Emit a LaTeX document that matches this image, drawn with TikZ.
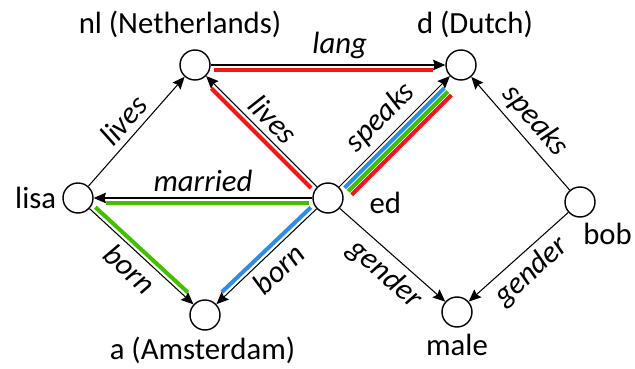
\documentclass[tikz,border=0pt]{standalone}
\usepackage{fontspec}
\setmainfont{Carlito}
\usetikzlibrary{arrows.meta,calc}
\definecolor{hired}{RGB}{235,25,25}
\definecolor{higreen}{RGB}{70,190,0}
\definecolor{hiblue}{RGB}{50,140,230}
\tikzset{every label/.append style={font=\fontsize{17.5}{21}\selectfont}}
\tikzset{
    ent/.style={circle, draw, minimum size=6mm, inner sep=0pt, line width=0.8pt},
    rel/.style={-{Stealth[length=7pt, width=6pt, inset=1pt]}, line width=0.6pt},
    lbl/.style={font=\fontsize{17.5}{21}\selectfont\itshape, sloped, midway},
    hl/.style={line width=2.3pt, shorten <=3.8mm, shorten >=5.6mm}
}
\begin{document}
\begin{tikzpicture}
	\useasboundingbox (0,0) rectangle (12.7,7.36);
	\node [ent, label={[label distance=1mm, xshift=-3mm]above:{nl (Netherlands)}}] (nl) at (3.9,6.06) {};
	\node [ent, label={[label distance=1mm, xshift=2.8mm]above:{d (Dutch)}}] (d) at (9.22,6.06) {};
	\node [ent, label=left:lisa] (lisa) at (1.56,3.4) {};
	\node [ent, label={[label distance=4mm, anchor=west]-8:ed}] (ed) at (6.56,3.4) {};
	\node [ent, label={[anchor=north west, xshift=-1.4mm]-75:bob}] (bob) at (11.6,3.32) {};
	\node [ent, label={[xshift=-0.5mm]below:a (Amsterdam)}] (ams) at (4.1,1.06) {};
	\node [ent, label=below:male] (male) at (9.14,1.12) {};
	\draw[rel] (lisa) -- node[lbl, above] {lives} (nl);
	\draw[rel] (ed) -- node[lbl, above] {lives} (nl);
	\draw[rel] (nl) -- node[lbl, above, pos=.55] {lang} (d);
	\draw[rel] (ed) -- node[lbl, above] {speaks} (d);
	\draw[rel] (bob) -- node[lbl, above] {speaks} (d);
	\draw[rel] (ed) -- node[lbl, above] {married} (lisa);
	\draw[rel] (lisa) -- node[lbl, below] {born} (ams);
	\draw[rel] (ed) -- node[lbl, below] {born} (ams);
	\draw[rel] (ed) -- node[lbl, below, pos=.55] {gender} (male);
	\draw[rel] (bob) -- node[lbl, below] {gender} (male);
	% highlighted paths
	\draw[hl, hired] ($(nl)!1mm!-90:(d)$) -- ($(d)!1mm!90:(nl)$);
	\draw[hl, hired] ($(ed)!1mm!90:(nl)$) -- ($(nl)!1mm!-90:(ed)$);
	\draw[hl, hiblue] ($(ed)!.9mm!-90:(d)$) -- ($(d)!.9mm!90:(ed)$);
	\draw[hl, higreen] ($(ed)!1.9mm!-90:(d)$) -- ($(d)!1.9mm!90:(ed)$);
	\draw[hl, hired] ($(ed)!2.9mm!-90:(d)$) -- ($(d)!2.9mm!90:(ed)$);
	\draw[hl, higreen] ($(ed)!1mm!90:(lisa)$) -- ($(lisa)!1mm!-90:(ed)$);
	\draw[hl, higreen] ($(lisa)!1mm!90:(ams)$) -- ($(ams)!1mm!-90:(lisa)$);
	\draw[hl, hiblue] ($(ed)!1mm!-90:(ams)$) -- ($(ams)!1mm!90:(ed)$);
\end{tikzpicture}
\end{document}
